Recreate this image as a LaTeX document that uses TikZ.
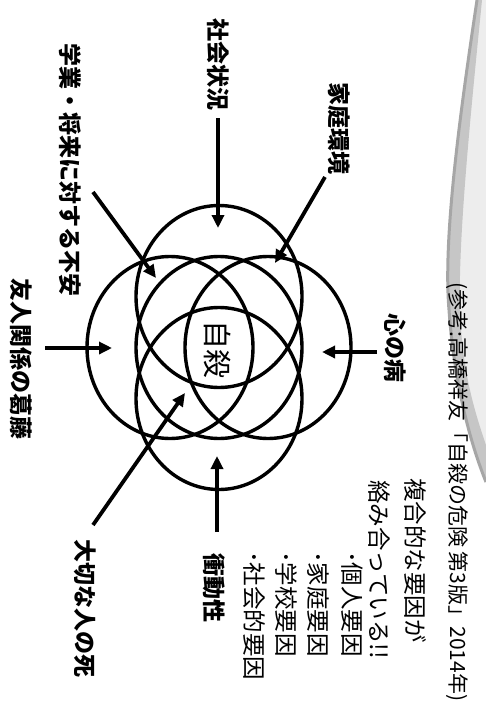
\documentclass[tikz,border=0pt]{standalone}
\usepackage{fontspec}
\newfontfamily\jp{Noto Sans CJK JP}
\usetikzlibrary{arrows.meta}
\begin{document}
\begin{tikzpicture}[x=1pt,y=-1pt,
  ring/.style={line width=3.4pt},
  arr/.style={line width=3.8pt,-{Triangle[length=13pt,width=12pt]}},
  lab/.style={rotate=-90,font=\jp\bfseries\fontsize{23}{23}\selectfont,inner sep=0pt},
  blk/.style={rotate=-90,anchor=west,font=\jp\fontsize{23.5}{24}\selectfont,inner sep=0pt},
  refs/.style={rotate=-90,anchor=west,font=\jp\fontsize{21}{21}\selectfont,inner sep=0pt}]
\useasboundingbox (0,0) rectangle (486,709);
% decorative swoosh
\fill[gray!14] (478,0) .. controls (460,120) and (444,240) .. (450,310) .. controls (455,380) and (470,440) .. (486,480) -- (486,0) -- cycle;
\fill[gray!45] (477,0) .. controls (459,120) and (443,240) .. (449,310) .. controls (454,380) and (469,440) .. (486,482)
  -- (486,445) .. controls (474,410) and (462,370) .. (460,310) .. controls (458,240) and (470,120) .. (482,0) -- cycle;
\draw[gray!70,line width=3pt] (477,0) .. controls (459,120) and (443,240) .. (449,310) .. controls (454,380) and (469,440) .. (486,482);
% circles
\draw[ring] (219,347.5) ellipse [x radius=83, y radius=91];
\draw[ring] (219,296.5) ellipse [x radius=83, y radius=91];
\draw[ring] (219,398.5) ellipse [x radius=83, y radius=91];
\draw[ring] (170,347.5) ellipse [x radius=83, y radius=91];
\draw[ring] (268,347.5) ellipse [x radius=83, y radius=91];
\node[rotate=-90,font=\jp\fontsize{29}{29}\selectfont,inner sep=0pt] (jisatsu) at (218,349) {自殺};
% labels
\node[lab] (shakai) at (218,65) {社会状況};
\node[lab] (katei) at (339,128) {家庭環境};
\node[lab] (gakugyo) at (70,170) {学業・将来に対する不安};
\node[lab] (yujin) at (21,359) {友人関係の葛藤};
\node[lab] (kokoro) at (395,348) {心の病};
\node[lab] (shodo) at (214,588) {衝動性};
\node[lab] (taisetsu) at (85,608) {大切な人の死};
% arrow ends
\coordinate (s1) at (218,118); \coordinate (t1) at (218,228);
\coordinate (s2) at (325,177); \coordinate (t2) at (275,263);
\coordinate (s3) at (93,192);  \coordinate (t3) at (156,278);
\coordinate (s4) at (45,348);  \coordinate (t4) at (112,348);
\coordinate (s5) at (377,352); \coordinate (t5) at (322,352);
\coordinate (s6) at (217,532); \coordinate (t6) at (217,456);
\coordinate (s7) at (93,525);  \coordinate (t7) at (185,393);
\draw[arr] (s1) -- (t1);
\draw[arr] (s2) -- (t2);
\draw[arr] (s3) -- (t3);
\draw[arr] (s4) -- (t4);
\draw[arr] (s5) -- (t5);
\draw[arr] (s6) -- (t6);
\draw[arr] (s7) -- (t7);
% right block
\node[refs] (ref) at (457,282) {(参考:高橋祥友「自殺の危険 第3版」2014年)};
\node[blk] (fukugo) at (415,478) {複合的な要因が};
\node[blk] (karami) at (379,480) {絡み合っている!!};
\node[blk] (b1) at (352,551) {･個人要因};
\node[blk] (b2) at (318,551) {･家庭要因};
\node[blk] (b3) at (286,551) {･学校要因};
\node[blk] (b4) at (254,551) {･社会的要因};
\end{tikzpicture}
\end{document}
